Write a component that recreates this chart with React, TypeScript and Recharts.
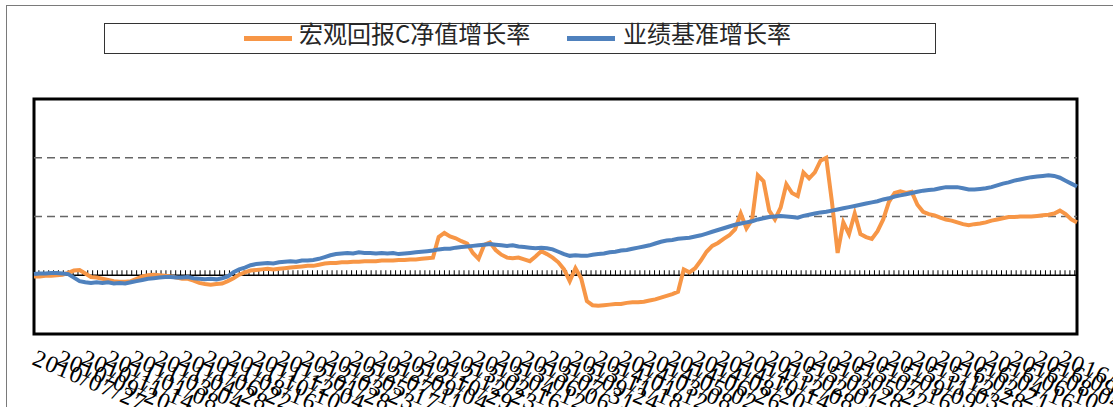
import React from 'react';
import { LineChart, Line, XAxis, YAxis, ReferenceLine, ReferenceArea } from 'recharts';

// x-axis date labels (date axis, one label every 55 days from 2010/07/27)
const tickLabels = [
  '2010/07/27', '2010/09/20', '2010/11/14', '2011/01/08', '2011/03/04', '2011/04/28',
  '2011/06/22', '2011/08/16', '2011/10/10', '2011/12/04', '2012/01/28', '2012/03/23',
  '2012/05/17', '2012/07/11', '2012/09/04', '2012/10/29', '2012/12/23', '2013/02/16',
  '2013/04/12', '2013/06/06', '2013/07/31', '2013/09/24', '2013/11/18', '2014/01/12',
  '2014/03/08', '2014/05/02', '2014/06/26', '2014/08/20', '2014/10/14', '2014/12/08',
  '2015/02/01', '2015/03/28', '2015/05/22', '2015/07/16', '2015/09/09', '2015/11/03',
  '2015/12/28', '2016/02/21', '2016/04/16', '2016/06/10', '2016/08/04', '2016/09/28',
  '2016/11/22',
];

// 宏观回报C净值增长率 (%), evenly sampled over the period
const fundGrowth = [
  -0.2, -0.2, -0.1, -0.1, 0.0, 0.1, 0.4, 0.8, 0.9, 0.3,
  -0.3, -0.4, -0.6, -0.8, -1.0, -1.1, -1.1, -1.0, -0.6, -0.2,
  0.0, 0.1, 0.0, -0.1, -0.2, -0.4, -0.6, -0.6, -0.9, -1.3,
  -1.5, -1.6, -1.5, -1.4, -1.0, -0.5, 0.1, 0.5, 0.8, 0.9,
  1.0, 1.1, 1.0, 1.1, 1.2, 1.3, 1.4, 1.5, 1.6, 1.6,
  1.8, 2.0, 2.1, 2.1, 2.2, 2.2, 2.3, 2.3, 2.4, 2.4,
  2.4, 2.5, 2.5, 2.5, 2.6, 2.6, 2.7, 2.7, 2.8, 2.9,
  3.0, 6.5, 7.2, 6.6, 6.3, 5.8, 5.4, 3.8, 2.8, 5.2,
  5.6, 4.3, 3.5, 3.0, 2.9, 3.0, 2.7, 2.4, 3.2, 4.1,
  3.6, 3.0, 2.2, 1.0, -1.0, 1.2, -0.5, -4.4, -5.1, -5.2,
  -5.1, -5.0, -4.9, -4.9, -4.7, -4.6, -4.6, -4.5, -4.3, -4.1,
  -3.8, -3.5, -3.2, -2.8, 1.0, 0.5, 1.2, 2.5, 4.0, 5.0,
  5.5, 6.2, 6.8, 7.8, 10.5, 8.0, 9.5, 17.0, 16.0, 11.0,
  9.5, 11.5, 15.5, 14.0, 13.5, 17.5, 16.5, 17.5, 19.5, 20.0,
  12.5, 3.8, 9.0, 7.0, 10.5, 7.0, 6.5, 6.2, 7.5, 9.5,
  12.5, 14.0, 14.3, 14.0, 14.2, 12.0, 10.8, 10.4, 10.2, 9.8,
  9.5, 9.3, 9.0, 8.7, 8.5, 8.7, 8.8, 9.0, 9.3, 9.5,
  9.7, 9.9, 9.9, 10.0, 10.0, 10.0, 10.1, 10.2, 10.3, 10.5,
  11.0, 10.4, 9.5, 9.0,
];

// 业绩基准增长率 (%)
const benchmarkGrowth = [
  0.2, 0.3, 0.3, 0.4, 0.4, 0.3, 0.2, -0.4, -1.0, -1.2,
  -1.3, -1.2, -1.3, -1.2, -1.4, -1.3, -1.4, -1.2, -1.0, -0.8,
  -0.6, -0.5, -0.4, -0.3, -0.3, -0.4, -0.4, -0.3, -0.5, -0.6,
  -0.7, -0.6, -0.7, -0.5, -0.2, 0.5, 1.0, 1.3, 1.7, 1.9,
  2.0, 2.1, 2.0, 2.2, 2.3, 2.4, 2.3, 2.5, 2.5, 2.6,
  2.8, 3.1, 3.4, 3.6, 3.7, 3.8, 3.7, 3.9, 3.8, 3.8,
  3.7, 3.8, 3.7, 3.8, 3.6, 3.7, 3.8, 3.9, 4.0, 4.1,
  4.2, 4.4, 4.5, 4.5, 4.7, 4.8, 4.9, 5.0, 5.1, 5.2,
  5.3, 5.2, 5.1, 5.0, 5.1, 4.9, 4.8, 4.7, 4.6, 4.7,
  4.6, 4.4, 4.0, 3.6, 3.3, 3.4, 3.3, 3.3, 3.5, 3.6,
  3.7, 3.9, 4.0, 4.2, 4.3, 4.5, 4.7, 4.9, 5.1, 5.4,
  5.7, 5.9, 6.0, 6.2, 6.3, 6.4, 6.6, 6.8, 7.1, 7.4,
  7.7, 8.0, 8.3, 8.6, 8.8, 9.0, 9.2, 9.5, 9.7, 9.9,
  10.0, 10.1, 10.0, 9.9, 9.8, 10.1, 10.3, 10.5, 10.7, 10.8,
  11.0, 11.2, 11.4, 11.6, 11.8, 12.0, 12.2, 12.4, 12.6, 12.9,
  13.1, 13.4, 13.6, 13.8, 14.0, 14.2, 14.4, 14.5, 14.6, 14.8,
  15.0, 15.0, 15.0, 14.8, 14.6, 14.6, 14.7, 14.8, 15.0, 15.3,
  15.6, 15.8, 16.1, 16.3, 16.5, 16.7, 16.8, 16.9, 17.0, 16.9,
  16.6, 16.1, 15.6, 15.1,
];

const seriesNames = ['宏观回报C净值增长率', '业绩基准增长率'];
const seriesColors = ['#F79646', '#4F81BD'];
const gridValues = [10, 20];
const yDomain = [-10, 30];

const SPAN_DAYS = 2348;
const LABEL_STEP_DAYS = 55;
const MINOR_STEP_DAYS = 11;

const data = fundGrowth.map((v, i) => ({
  day: (i * SPAN_DAYS) / (fundGrowth.length - 1),
  fund: v,
  bench: benchmarkGrowth[i],
}));
const labelTicks = tickLabels.map((_, k) => k * LABEL_STEP_DAYS);
const minorTicks = Array.from(
  { length: Math.floor(SPAN_DAYS / MINOR_STEP_DAYS) + 1 },
  (_, k) => k * MINOR_STEP_DAYS
);

const DateTick = (props: any) => {
  const { x, y, payload } = props;
  const k = Math.round(payload.value / LABEL_STEP_DAYS);
  const ax = x - 3;
  const ay = y + 22;
  return (
    <text
      x={ax}
      y={ay}
      transform={`rotate(23 ${ax} ${ay})`}
      fontFamily="'Liberation Serif', serif"
      fontSize={24}
      letterSpacing={1.2}
      fill="#000"
      textAnchor="start"
    >
      {tickLabels[k]}
    </text>
  );
};

const legendLayout = [
  { swatchLeft: 244, textLeft: 299 },
  { swatchLeft: 567, textLeft: 623 },
];

export default function App() {
  return (
    <div
      style={{
        position: 'absolute',
        left: 0,
        top: 0,
        width: 1113,
        height: 407,
        overflow: 'hidden',
        background: '#fff',
      }}
    >
      <div
        style={{
          position: 'absolute',
          left: 6,
          top: 5,
          width: 1130,
          height: 430,
          border: '1.5px solid #7a7a7a',
          boxSizing: 'border-box',
        }}
      />
      <div style={{ position: 'absolute', left: 0, top: 0 }}>
        <LineChart
          width={1113}
          height={407}
          data={data}
          margin={{ top: 99, right: 36, left: 34, bottom: 0 }}
        >
          <XAxis
            dataKey="day"
            type="number"
            domain={[0, SPAN_DAYS]}
            ticks={labelTicks}
            interval={0}
            height={73}
            axisLine={false}
            tickLine={false}
            tick={<DateTick />}
          />
          <YAxis type="number" domain={yDomain} hide width={0} allowDataOverflow />
          {gridValues.map((g) => (
            <ReferenceLine
              key={'g' + g}
              y={g}
              stroke="#666"
              strokeWidth={1.5}
              strokeDasharray="8 5"
            />
          ))}
          <ReferenceLine y={0} stroke="#000" strokeWidth={1.5} />
          {minorTicks.map((d) => (
            <ReferenceLine
              key={'m' + d}
              segment={[
                { x: d, y: 0 },
                { x: d, y: 0.85 },
              ]}
              stroke="#000"
              strokeWidth={1}
            />
          ))}
          <Line
            type="linear"
            dataKey="fund"
            name={seriesNames[0]}
            stroke={seriesColors[0]}
            strokeWidth={4}
            dot={false}
            isAnimationActive={false}
          />
          <Line
            type="linear"
            dataKey="bench"
            name={seriesNames[1]}
            stroke={seriesColors[1]}
            strokeWidth={4}
            dot={false}
            isAnimationActive={false}
          />
          <ReferenceArea
            x1={0}
            x2={SPAN_DAYS}
            y1={yDomain[0]}
            y2={yDomain[1]}
            fill="none"
            fillOpacity={0}
            stroke="#000"
            strokeWidth={3}
            ifOverflow="visible"
          />
        </LineChart>
      </div>
      <div
        style={{
          position: 'absolute',
          left: 104,
          top: 23,
          width: 832,
          height: 31,
          border: '1.5px solid #333',
          boxSizing: 'border-box',
        }}
      />
      {seriesNames.map((name, i) => (
        <React.Fragment key={name}>
          <div
            style={{
              position: 'absolute',
              left: legendLayout[i].swatchLeft,
              top: 36,
              width: 48,
              height: 5,
              background: seriesColors[i],
            }}
          />
          <div
            style={{
              position: 'absolute',
              left: legendLayout[i].textLeft,
              top: 21,
              fontFamily: "'Noto Sans CJK SC', sans-serif",
              fontSize: 24,
              lineHeight: '24px',
              color: '#262626',
              whiteSpace: 'nowrap',
            }}
          >
            {name}
          </div>
        </React.Fragment>
      ))}
    </div>
  );
}
